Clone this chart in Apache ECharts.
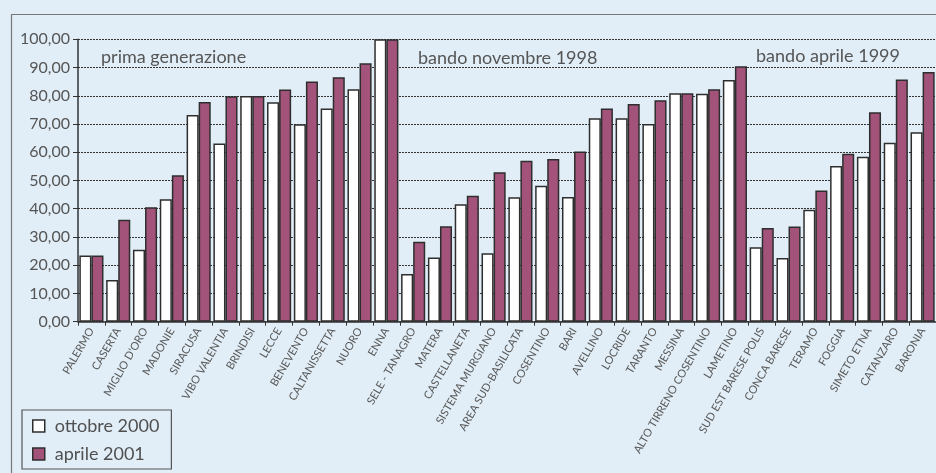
<!DOCTYPE html>
<html><head><meta charset="utf-8">
<script src="https://cdn.jsdelivr.net/npm/echarts@6/dist/echarts.min.js"></script>
<style>html,body{margin:0;padding:0;background:#e1eef7;}#c{width:936px;height:473px;}</style>
</head><body><div id="c"></div>
<script>
const categories = ["PALERMO","CASERTA","MIGLIO D'ORO","MADONIE","SIRACUSA","VIBO VALENTIA","BRINDISI","LECCE","BENEVENTO","CALTANISSETTA","NUORO","ENNA","SELE - TANAGRO","MATERA","CASTELLANETA","SISTEMA MURGIANO","AREA SUD-BASILICATA","COSENTINO","BARI","AVELLINO","LOCRIDE","TARANTO","MESSINA","ALTO TIRRENO COSENTINO","LAMETINO","SUD EST BARESE POLIS","CONCA BARESE","TERAMO","FOGGIA","SIMETO ETNA","CATANZARO","BARONIA"];
const ottobre2000 = [23.4,14.8,25.5,43.4,73.2,63.1,79.9,77.7,69.9,75.5,82.3,100,16.9,22.7,41.6,24.2,44.1,48.1,44.2,72.0,72.0,70.0,80.9,80.7,85.6,26.4,22.6,39.6,55.1,58.4,63.4,67.1];
const aprile2001 = [23.4,36.1,40.5,51.9,77.8,79.8,79.9,82.2,85.1,86.6,91.5,100,28.3,33.8,44.6,52.9,57.0,57.6,60.3,75.5,77.1,78.4,80.9,82.3,90.5,33.2,33.7,46.5,59.5,74.2,85.8,88.4];
const seriesNames = ["ottobre 2000","aprile 2001"];
const groupLabels = ["prima generazione","bando novembre 1998","bando aprile 1999"];

const FONT = "Lato";
const chart = echarts.init(document.getElementById('c'), null, {renderer:'canvas'});
const barStyle = (fill)=>({color:fill,borderColor:'#2e2e2e',borderWidth:1.5});
chart.setOption({
  backgroundColor:'#e1eef7',
  animation:false,
  textStyle:{fontFamily:FONT},
  grid:{left:78,right:0,top:39.3,bottom:151.3,containLabel:false},
  legend:{
    orient:'vertical', left:22, top:410, padding:[7,12,6,10],
    borderColor:'#555', borderWidth:1.2, itemGap:10,
    itemWidth:12, itemHeight:12, icon:'rect',
    textStyle:{fontFamily:FONT,fontSize:18,color:'#505050',padding:[0,0,0,5]},
    data:[{name:seriesNames[0],itemStyle:{color:'#fff',borderColor:'#2e2e2e',borderWidth:1.5}},
          {name:seriesNames[1],itemStyle:{color:'#a3527a',borderColor:'#2e2e2e',borderWidth:1.5}}]
  },
  xAxis:{type:'category',data:categories,
    axisLine:{lineStyle:{color:'#333',width:1.5}},
    axisTick:{show:true,length:4,lineStyle:{color:'#333'}},
    axisLabel:{rotate:60,interval:0,fontSize:11,color:'#5a5a5a',fontFamily:FONT,margin:7}},
  yAxis:{type:'value',min:0,max:100,interval:10,
    axisLine:{show:true,lineStyle:{color:'#333',width:1.5}},
    axisTick:{show:true,length:5,lineStyle:{color:'#333'}},
    axisLabel:{fontSize:16,color:'#555',fontFamily:FONT,margin:8,
      formatter:v=>v.toFixed(2).replace('.',',')},
    splitLine:{show:true,lineStyle:{color:'#333',width:1,type:[2,1]}}},
  series:[
    {name:seriesNames[0],type:'bar',data:ottobre2000,barGap:'0%',barCategoryGap:'10%',itemStyle:barStyle('#ffffff')},
    {name:seriesNames[1],type:'bar',data:aprile2001,barGap:'0%',barCategoryGap:'10%',itemStyle:barStyle('#a3527a')}
  ],
  graphic:[
    {type:'rect',left:9,top:12,shape:{width:940,height:480},style:{fill:null,stroke:'#777',lineWidth:1.2},z:-1,silent:true},
    {type:'text',left:101,top:48,style:{text:groupLabels[0],fontSize:18,fill:'#555',fontFamily:FONT}},
    {type:'text',left:418,top:49,style:{text:groupLabels[1],fontSize:18,fill:'#555',fontFamily:FONT}},
    {type:'text',left:756,top:47,style:{text:groupLabels[2],fontSize:18,fill:'#555',fontFamily:FONT}}
  ]
});
</script></body></html>
